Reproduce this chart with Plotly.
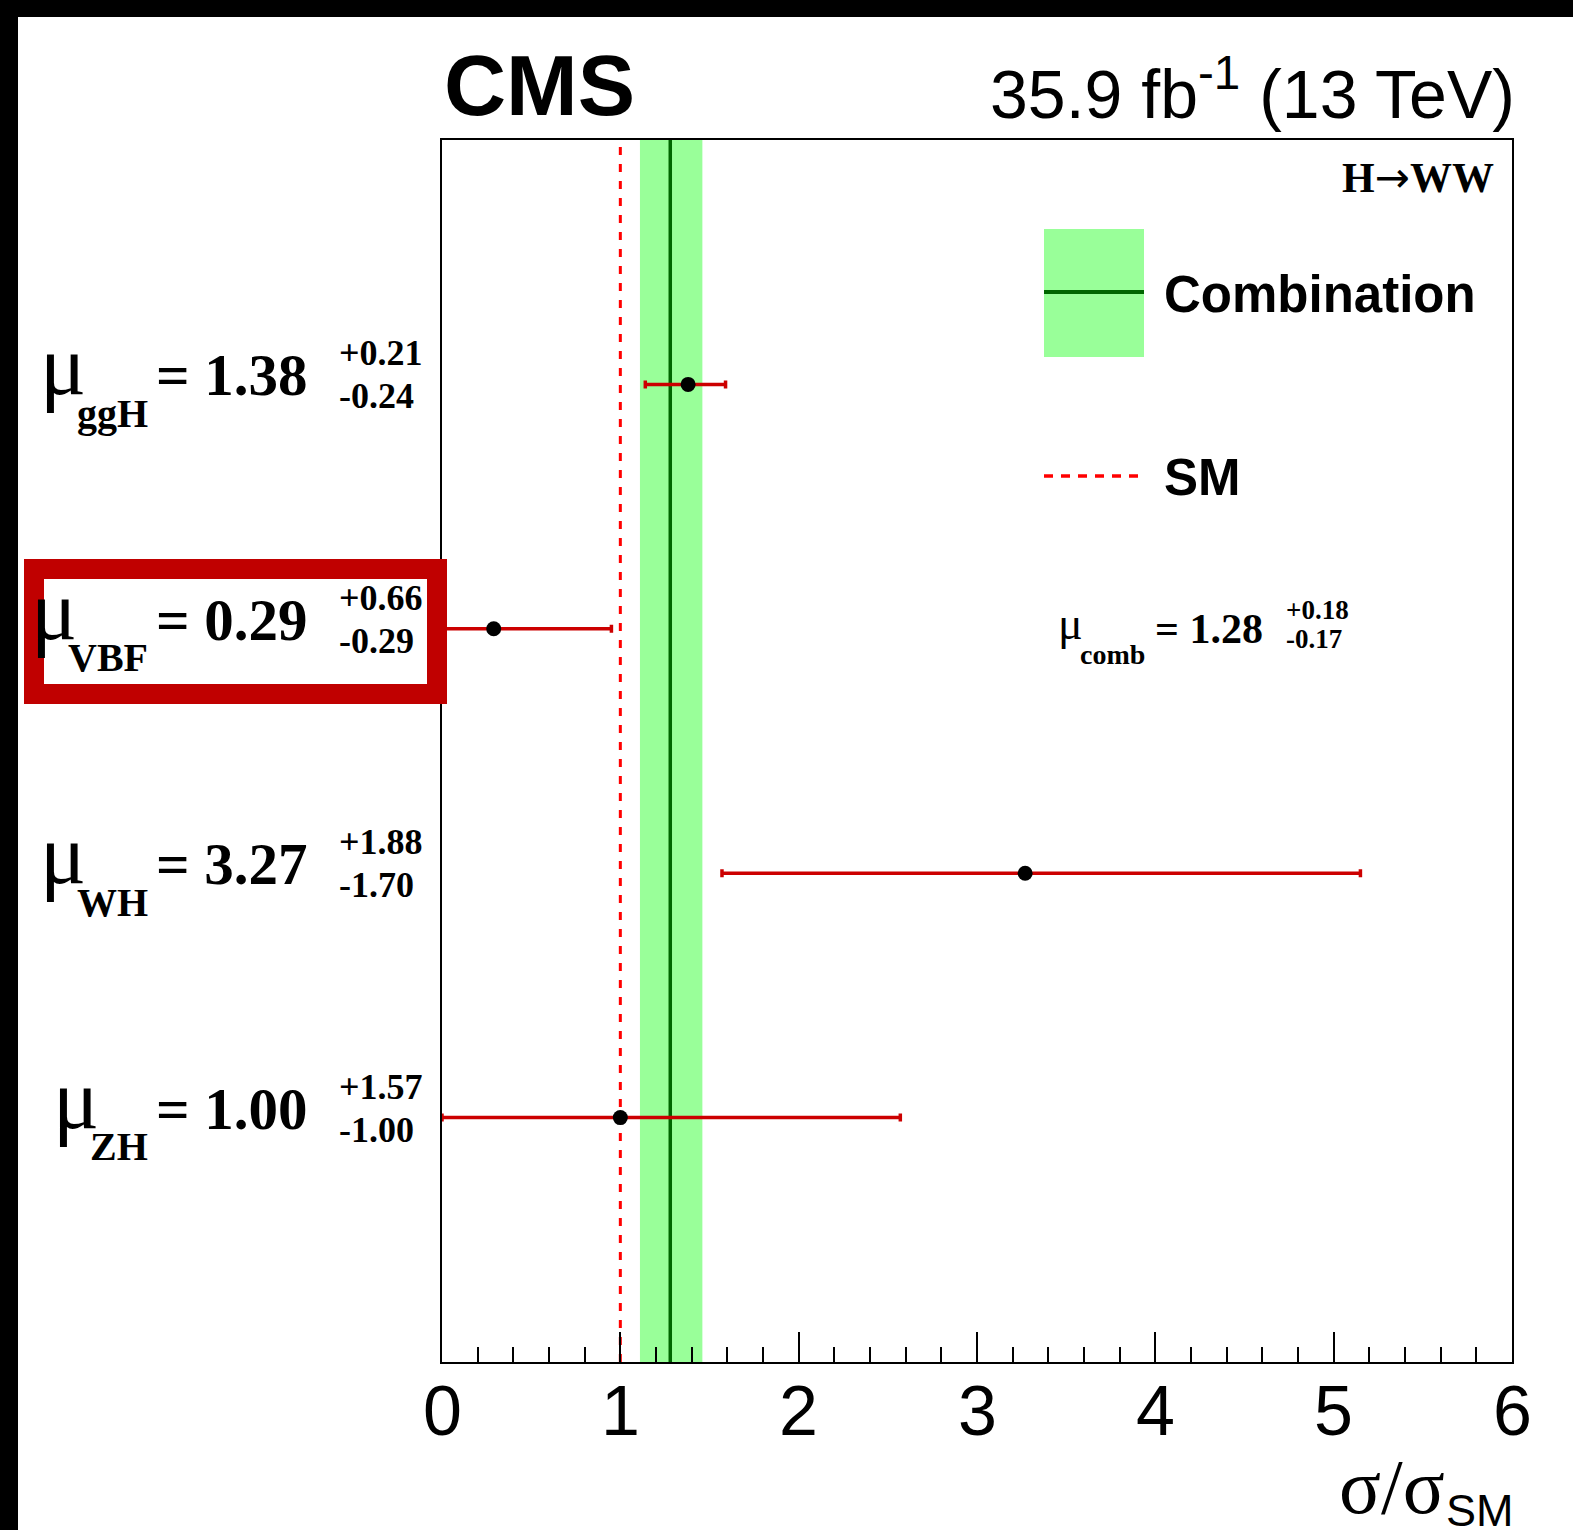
import plotly.graph_objects as go

# Signal strength fits per production mode (H -> WW)
channels = ["ggH", "VBF", "WH", "ZH"]
mu_values = [1.38, 0.29, 3.27, 1.00]
err_up = [0.21, 0.66, 1.88, 1.57]
err_down = [0.24, 0.29, 1.70, 1.00]
row_positions = [4, 3, 2, 1]

# Combined fit and Standard Model reference
comb_value = 1.28
comb_up = 0.18
comb_down = 0.17
sm_value = 1.0

x_ticks = [0, 1, 2, 3, 4, 5, 6]
x_tick_labels = ["0", "1", "2", "3", "4", "5", "6"]
x_range = [0, 6]
y_range = [0, 5]

# Canvas geometry (pixels)
W, H = 1573, 1530
L, R, T, B = 442, 61, 140, 168
plot_w = W - L - R
plot_h = H - T - B

SANS = "Liberation Sans, Arial, Helvetica, sans-serif"
SERIF = "Liberation Serif, Times New Roman, Times, serif"

RED_BAR = "#cc0000"
BAND = "#99ff99"
DARK_GREEN = "#006600"
SM_RED = "#ff0000"
BOX_RED = "#c00000"


def px_x(px):
    return (px - L) / plot_w


def px_y(py):
    return (H - B - py) / plot_h


# Advance widths (em) of the bold serif face, used to place the mu symbol
BOLD_SERIF_W = {"g": 0.5, "H": 0.778, "V": 0.722, "B": 0.667, "F": 0.611,
                "W": 1.0, "Z": 0.667, "c": 0.444, "o": 0.5, "m": 0.833,
                "b": 0.556}


def text_width(s, size):
    return sum(BOLD_SERIF_W.get(c, 0.5) for c in s) * size


annotations = []


def label(text, x_px, y, size, family, xanchor, yref="paper", yshift=0,
          yanchor="middle", x=None, xref="paper"):
    annotations.append(dict(
        text=text, x=px_x(x_px) if x is None else x, xref=xref, y=y, yref=yref,
        xanchor=xanchor, yanchor=yanchor, yshift=yshift, showarrow=False,
        font=dict(size=size, family=family, color="black"),
        borderpad=0, borderwidth=0))


fig = go.Figure()

fig.add_trace(go.Scatter(
    x=mu_values, y=row_positions, mode="markers",
    marker=dict(size=15, color="black", line=dict(width=0)),
    error_x=dict(type="data", symmetric=False, array=err_up,
                 arrayminus=err_down, color=RED_BAR, thickness=3.5, width=4),
    showlegend=False, hoverinfo="skip"))

shapes = []
# combination band and central value
shapes.append(dict(type="rect", xref="x", yref="paper",
                   x0=comb_value - comb_down, x1=comb_value + comb_up,
                   y0=0, y1=1, fillcolor=BAND, line=dict(width=0),
                   layer="below"))
shapes.append(dict(type="line", xref="x", yref="paper",
                   x0=comb_value, x1=comb_value, y0=0, y1=1,
                   line=dict(color=DARK_GREEN, width=3.5), layer="below"))
# SM expectation
shapes.append(dict(type="line", xref="x", yref="paper",
                   x0=sm_value, x1=sm_value, y0=0, y1=1,
                   line=dict(color=SM_RED, width=3, dash="8px,9px"),
                   layer="below"))

# legend entries
shapes.append(dict(type="rect", xref="paper", yref="paper",
                   x0=px_x(1044), x1=px_x(1144), y0=px_y(357), y1=px_y(229),
                   fillcolor=BAND, line=dict(width=0), layer="above"))
shapes.append(dict(type="line", xref="paper", yref="paper",
                   x0=px_x(1044), x1=px_x(1144), y0=px_y(292), y1=px_y(292),
                   line=dict(color=DARK_GREEN, width=4), layer="above"))
shapes.append(dict(type="line", xref="paper", yref="paper",
                   x0=px_x(1044), x1=px_x(1140), y0=px_y(476), y1=px_y(476),
                   line=dict(color=SM_RED, width=3.5, dash="9px,8px"),
                   layer="above"))

# highlight frame around the VBF result
shapes.append(dict(type="rect", xref="paper", yref="paper",
                   x0=px_x(34), x1=px_x(437), y0=px_y(694), y1=px_y(569),
                   line=dict(color=BOX_RED, width=20), fillcolor="rgba(0,0,0,0)",
                   layer="above"))

# dark border along the top and left edges of the canvas
shapes.append(dict(type="rect", xref="paper", yref="paper",
                   x0=px_x(0), x1=px_x(18), y0=px_y(H), y1=px_y(0),
                   fillcolor="black", line=dict(width=0), layer="above"))
shapes.append(dict(type="rect", xref="paper", yref="paper",
                   x0=px_x(0), x1=px_x(W), y0=px_y(17), y1=px_y(0),
                   fillcolor="black", line=dict(width=0), layer="above"))

# header texts
label("<b>CMS</b>", 444, px_y(85), 86, SANS, "left")
label("35.9 fb<sup>-1</sup> (13 TeV)", 1515, px_y(132), 68, SANS, "right",
      yanchor="bottom")
label("<b>H</b><span style='font-family:DejaVu Sans;font-weight:normal'>→</span><b>WW</b>",
      1494, px_y(177), 42, SERIF, "right")

# legend texts
label("<b>Combination</b>", 1164, px_y(294), 51, SANS, "left")
label("<b>SM</b>", 1164, px_y(477), 51, SANS, "left")

# per-channel results
MU_FS, MAIN_FS, SUB_FS, ERR_FS = 86, 59, 40, 36
SUB_RIGHT, MAIN_RIGHT, ERR_LEFT = 148, 308, 339
for name, v, up, dn, yv in zip(channels, mu_values, err_up, err_down,
                                row_positions):
    sub_left = SUB_RIGHT - text_width(name, SUB_FS)
    label("μ", sub_left + 9, yv, MU_FS, SERIF, "right", yref="y", yshift=19)
    label(f"<b>{name}</b>", SUB_RIGHT, yv, SUB_FS, SERIF, "right", yref="y",
          yshift=-29)
    label(f"<b>= {v:.2f}</b>", MAIN_RIGHT, yv, MAIN_FS, SERIF, "right",
          yref="y", yshift=9)
    label(f"<b>+{up:.2f}</b>", ERR_LEFT, yv, ERR_FS, SERIF, "left", yref="y",
          yshift=31)
    label(f"<b>-{dn:.2f}</b>", ERR_LEFT, yv, ERR_FS, SERIF, "left", yref="y",
          yshift=-12)

# combined result
comb_sub_right = 1145
comb_sub_left = comb_sub_right - text_width("comb", 28)
label("μ", comb_sub_left + 3, px_y(623), 46, SERIF, "right")
label("<b>comb</b>", comb_sub_right, px_y(654), 28, SERIF, "right")
label(f"<b>= {comb_value:.2f}</b>", 1263, px_y(628.5), 42, SERIF, "right")
label(f"<b>+{comb_up:.2f}</b>", 1286, px_y(610), 27, SERIF, "left")
label(f"<b>-{comb_down:.2f}</b>", 1286, px_y(639), 27, SERIF, "left")

# x-axis tick labels, placed on the axis scale
for tv, tl in zip(x_ticks, x_tick_labels):
    label(tl, 0, px_y(1411), 70, SANS, "center", x=tv, xref="x")

# x-axis title
label("σ/σ", 1445, px_y(1486), 78, SERIF, "right")
label("SM", 1514, px_y(1510), 45, SANS, "right")

fig.update_layout(
    width=W, height=H,
    margin=dict(l=L, r=R, t=T, b=B, pad=0),
    paper_bgcolor="white", plot_bgcolor="white",
    shapes=shapes, annotations=annotations, showlegend=False,
    xaxis=dict(range=x_range, tickvals=x_ticks, ticks="inside", ticklen=30,
               tickwidth=2, tickcolor="black", showline=True,
               linecolor="black", linewidth=2, mirror=True, showgrid=False,
               zeroline=False, showticklabels=False,
               minor=dict(ticks="inside", ticklen=15, tickwidth=2,
                          dtick=0.2, tickcolor="black", showgrid=False)),
    yaxis=dict(range=y_range, showticklabels=False, ticks="",
               showline=True, linecolor="black", linewidth=2, mirror=True,
               showgrid=False, zeroline=False),
)

fig.write_html("out.html")
